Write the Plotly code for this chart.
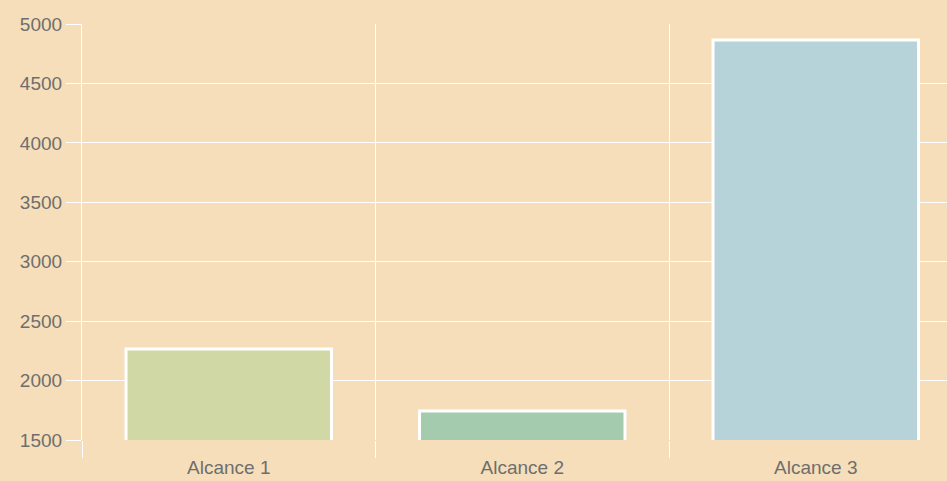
import plotly.graph_objects as go

categories = ["Alcance 1", "Alcance 2", "Alcance 3"]
values = [2265, 1745, 4865]
bar_colors = ["#D0D8A6", "#A5CBAE", "#B6D3DA"]
y_ticks = [1500, 2000, 2500, 3000, 3500, 4000, 4500, 5000]

bg = "#F6DEBA"
txt = "#6E6E6E"

fig = go.Figure(
    go.Bar(
        x=categories,
        y=values,
        width=0.7,
        marker=dict(color=bar_colors, line=dict(color="white", width=3)),
        hoverinfo="x+y",
    )
)

fig.update_layout(
    width=947,
    height=481,
    margin=dict(l=82, r=0, t=24, b=41),
    paper_bgcolor=bg,
    plot_bgcolor=bg,
    showlegend=False,
    font=dict(family="Liberation Sans, Arial, sans-serif", size=19, color=txt),
)

fig.update_xaxes(
    type="category",
    range=[-0.5, -0.5 + (947 - 82) / 293.5],
    tickson="boundaries",
    showgrid=True,
    gridcolor="white",
    gridwidth=1.2,
    ticks="outside",
    ticklen=17,
    tickcolor="white",
    tickwidth=1.2,
    showline=False,
    zeroline=False,
    ticklabelstandoff=14,
    tickfont=dict(size=19, color=txt),
)

fig.update_yaxes(
    range=[1500, 5000],
    tickvals=y_ticks,
    showgrid=True,
    gridcolor="white",
    gridwidth=1.2,
    ticks="outside",
    ticklen=15,
    tickcolor="white",
    tickwidth=1.2,
    showline=True,
    linecolor="white",
    linewidth=1.2,
    zeroline=False,
    tickfont=dict(size=19, color=txt),
)

fig.write_html(
    "out.html",
    config={"displayModeBar": False},
    post_script="document.body.style.margin='0';document.body.style.padding='0';",
)
